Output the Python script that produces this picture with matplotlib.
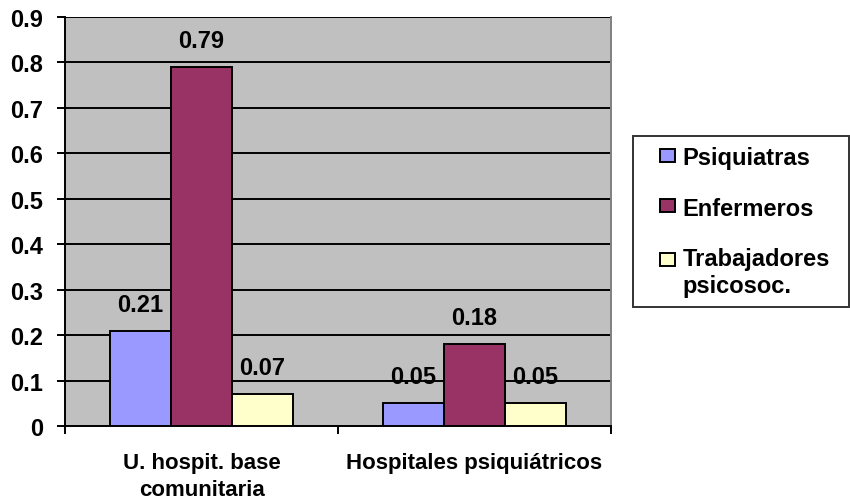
import numpy as np
import matplotlib
matplotlib.use("Agg")
import matplotlib.pyplot as plt
from matplotlib.patches import Patch, Rectangle
from matplotlib.legend_handler import HandlerPatch

categories = ["U. hospit. base\ncomunitaria", "Hospitales psiquiátricos"]
series = ["Psiquiatras", "Enfermeros", "Trabajadores\npsicosoc."]
values = [
    [0.21, 0.05],   # Psiquiatras
    [0.79, 0.18],   # Enfermeros
    [0.07, 0.05],   # Trabajadores psicosoc.
]
labels = [["0.21", "0.05"], ["0.79", "0.18"], ["0.07", "0.05"]]
colors = ["#9999FF", "#993366", "#FFFFCC"]
yticks = [0, 0.1, 0.2, 0.3, 0.4, 0.5, 0.6, 0.7, 0.8, 0.9]
ytick_labels = ["0", "0.1", "0.2", "0.3", "0.4", "0.5", "0.6", "0.7", "0.8", "0.9"]

plt.rcParams["font.family"] = ["Liberation Sans", "DejaVu Sans"]
plt.rcParams["font.weight"] = "bold"
fs = 17

fig = plt.figure(figsize=(8.5, 5.02), dpi=100)
ax = fig.add_axes([65/850, 1-427/502, (611-65)/850, (427-18)/502])
ax.set_facecolor("#C0C0C0")

x = np.arange(len(categories))
w = 0.223
for i, (vals, col) in enumerate(zip(values, colors)):
    pos = x + (i - 1) * w
    ax.bar(pos, vals, width=w, color=col, edgecolor="black", linewidth=1.4, zorder=3)
    for p, v, t in zip(pos, vals, labels[i]):
        ax.annotate(t, (p, v), xytext=(0, 19), textcoords="offset points",
                    ha="center", va="center", fontsize=fs, fontweight="bold",
                    zorder=4)

ax.set_xlim(-0.5, 1.5)
ax.set_ylim(0, 0.9)
ax.set_yticks(yticks)
ax.set_yticklabels(ytick_labels, fontsize=fs, fontweight="bold")
ax.yaxis.grid(True, color="black", linewidth=1.4, zorder=1)
ax.set_axisbelow(True)

ax.set_xticks([-0.5, 0.5, 1.5])
ax.set_xticklabels([])
ax.set_xticks(x, minor=True)
ax.set_xticklabels(categories, minor=True, fontsize=16, fontweight="bold",
                   linespacing=1.35)
ax.tick_params(axis="x", which="minor", length=0, pad=19)
ax.tick_params(axis="x", which="major", length=6, width=1.4, direction="out")
ax.tick_params(axis="y", length=6, width=1.4, direction="out", pad=10)

for sp in ["left", "bottom"]:
    ax.spines[sp].set_color("black")
    ax.spines[sp].set_linewidth(1.4)
ax.spines["top"].set_visible(False)
ax.spines["right"].set_color("#808080")
ax.spines["right"].set_linewidth(1.4)


# legend: small square swatch sitting on the first text line
def swatch(legend, orig_handle, xdescent, ydescent, width, height, fontsize):
    sw, sh = 10.8, 9.4
    shift = 9.2 if "\n" in orig_handle.get_label() else 0
    return Rectangle((-xdescent + width - sw - 2.2, -ydescent + 1.5 + shift), sw, sh)


handles = [Patch(facecolor=c, edgecolor="black", linewidth=1.4, label=s)
           for c, s in zip(colors, series)]
leg = fig.legend(handles=handles, labels=series,
                 loc="upper left", bbox_to_anchor=(633/850, 1-302/502, 216/850, 165/502),
                 mode="expand", fontsize=fs, frameon=True, fancybox=False, shadow=False,
                 handlelength=1.48, handleheight=0.7, handletextpad=0.2,
                 labelspacing=1.17, borderpad=0.42, borderaxespad=0,
                 handler_map={Patch: HandlerPatch(patch_func=swatch)})
leg.get_frame().set_edgecolor("black")
leg.get_frame().set_linewidth(1.4)
for t in leg.get_texts():
    t.set_fontweight("bold")
    t.set_linespacing(1.2)

fig.savefig("out.png", dpi=100)
